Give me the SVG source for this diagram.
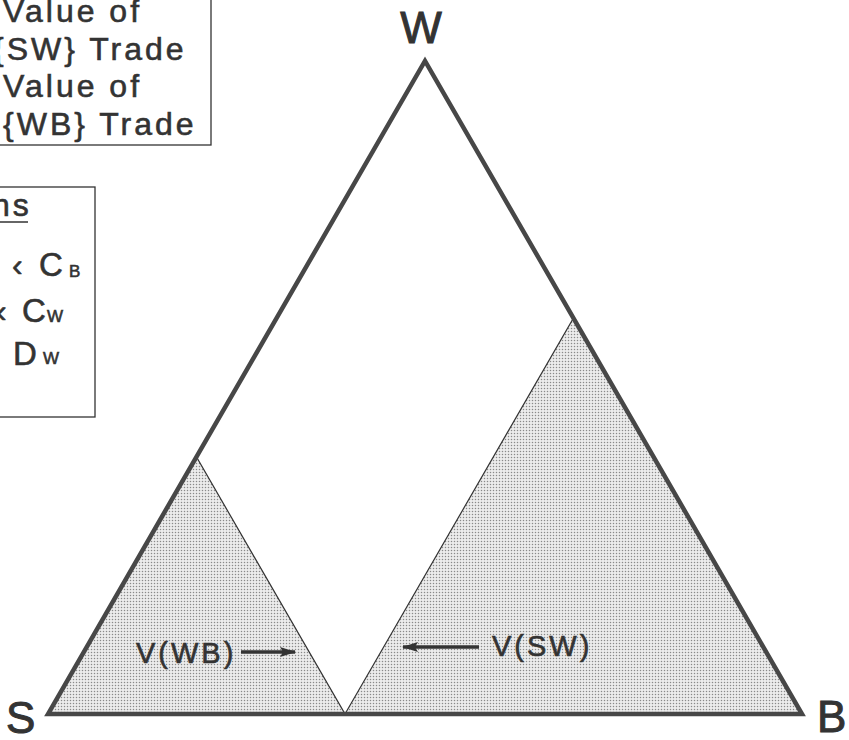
<svg xmlns="http://www.w3.org/2000/svg" width="849" height="740" viewBox="0 0 849 740">
<defs>
<pattern id="dots" width="3" height="3" patternUnits="userSpaceOnUse">
<rect width="3" height="3" fill="#ececec"/>
<circle cx="1.5" cy="1.5" r="0.75" fill="#8a8a8a"/>
</pattern>
<marker id="ah" viewBox="0 0 16 10" refX="15" refY="5" markerWidth="16" markerHeight="10" markerUnits="userSpaceOnUse" orient="auto">
<path d="M0,0 L16,5 L0,10 L3,5 Z" fill="#333"/>
</marker>
</defs>
<style>
.t{font-family:"Liberation Sans",Arial,Helvetica,sans-serif;fill:#333;stroke:#333;stroke-width:0.6px;}
.leg{font-size:32px;letter-spacing:3px;}
.sub{font-size:17px;}
.vx{font-size:44px;stroke-width:1px;}
.lab{font-size:29px;letter-spacing:3px;}
.box{fill:none;stroke:#333;stroke-width:1.3;}
.inner{fill:url(#dots);stroke:#333;stroke-width:1.2;}
.outer{fill:none;stroke:#474747;stroke-width:4.5;stroke-linejoin:miter;}
.arr{stroke:#333;stroke-width:3.5;fill:none;}
</style>
<rect width="849" height="740" fill="#fff"/>

<g id="legend-values">
<rect class="box" x="-10" y="-10" width="221" height="155"/>
<text class="t leg" x="3" y="22">Value of</text>
<text class="t leg" x="-7" y="60">{SW} Trade</text>
<text class="t leg" x="3" y="97">Value of</text>
<text class="t leg" x="3" y="135">{WB} Trade</text>
</g>

<g id="legend-assumptions">
<rect class="box" x="-10" y="187" width="105" height="230"/>
<text class="t leg" x="-8" y="216" letter-spacing="0">ns</text>
<line x1="0" y1="222" x2="28" y2="222" stroke="#333" stroke-width="1.5"/>
<text class="t" x="12" y="276" font-size="32">‹</text>
<text class="t" x="39" y="276" font-size="33">C</text>
<text class="t sub" x="69" y="277">B</text>
<text class="t" x="-4" y="322" font-size="32">‹</text>
<text class="t" x="22" y="322" font-size="33">C</text>
<text class="t sub" x="47" y="322">W</text>
<text class="t" x="13" y="365" font-size="33">D</text>
<text class="t sub" x="43" y="364">W</text>
</g>

<g id="region-WB">
<polygon class="inner" points="48,714 196.5,457 345,714"/>
</g>
<g id="region-SW">
<polygon class="inner" points="345,714 573.5,318 802,714"/>
</g>
<g id="triangle">
<polygon class="outer" points="48,714 425,61 802,714"/>
</g>

<g id="vertex-W"><text class="t vx" x="421" y="43" text-anchor="middle">W</text></g>
<g id="vertex-S"><text class="t vx" x="6" y="733">S</text></g>
<g id="vertex-B"><text class="t vx" x="817" y="732">B</text></g>

<g id="label-VWB"><text class="t lab" x="136" y="663">V(WB)</text></g>
<g id="label-VSW"><text class="t lab" x="492" y="656">V(SW)</text></g>

<g id="connectors">
<line class="arr" x1="241" y1="652" x2="295" y2="652" marker-end="url(#ah)"/>
<line class="arr" x1="479" y1="647" x2="403" y2="647" marker-end="url(#ah)"/>
</g>
</svg>
